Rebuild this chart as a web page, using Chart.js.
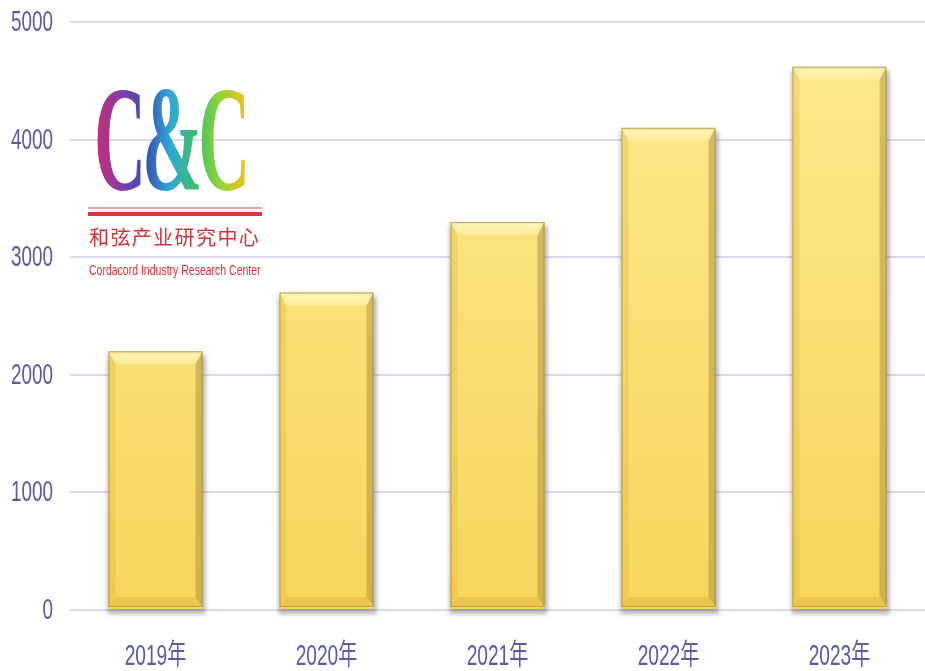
<!DOCTYPE html>
<html>
<head>
<meta charset="utf-8">
<script src="https://cdn.jsdelivr.net/npm/chart.js@4.4.1/dist/chart.umd.min.js"></script>
<style>
  html, body { margin: 0; padding: 0; background: #fff; }
  #wrap { position: relative; width: 925px; height: 671px; overflow: hidden; }
  #chart { position: absolute; left: 0; top: 0; }
  .logo { position: absolute; left: 88px; top: 84px; width: 176px; height: 200px; pointer-events: none; }
  .logo .mark {
    position: absolute; left: 6px; top: -20px; display: inline-block;
    font-family: "Liberation Serif", "DejaVu Serif", serif; font-size: 150px; font-weight: bold; line-height: 1;
    letter-spacing: -8px; white-space: nowrap;
    background: linear-gradient(90deg, #c8306c 0%, #8a3aa8 16%, #3b4fb0 34%, #2fa8d8 50%, #3cbf6a 66%, #8fd33a 82%, #f2c21e 100%);
    -webkit-background-clip: text; background-clip: text; color: transparent;
    transform: scaleX(0.48); transform-origin: 0 0;
  }
  .logo .rule1 { position: absolute; left: 0; top: 123px; width: 174px; height: 2px; background: #e7a2a4; }
  .logo .rule2 { position: absolute; left: 0; top: 128px; width: 174px; height: 4px; background: #cf3a3f; }
  .logo .cn {
    position: absolute; left: 1px; top: 143px; white-space: nowrap;
    font-family: "Noto Sans CJK SC", sans-serif; font-size: 20px; line-height: 1;
    letter-spacing: 1.4px; color: #d3323a;
  }
  .logo .en {
    position: absolute; left: 1px; top: 179px; width: 240px; white-space: nowrap;
    font-family: "Liberation Sans Narrow", "Liberation Sans", sans-serif; font-size: 14px; line-height: 1;
    color: #d3323a; transform: scaleX(0.75); transform-origin: 0 0;
  }
</style>
</head>
<body>
<div id="wrap">
  <canvas id="chart" width="925" height="671"></canvas>
  <div class="logo">
    <div class="mark">C&amp;C</div>
    <div class="rule1"></div>
    <div class="rule2"></div>
    <div class="cn">和弦产业研究中心</div>
    <div class="en">Cordacord Industry Research Center</div>
  </div>
</div>
<script>
// yearly values
var years = ['2019年', '2020年', '2021年', '2022年', '2023年'];
var marketSize = [2200, 2700, 3300, 4100, 4620];
var yTickValues = [0, 1000, 2000, 3000, 4000, 5000];

var labelColor = '#5a5aa6';
var labelFont = '29px "Liberation Sans Narrow", "Liberation Sans", "Noto Sans CJK SC", sans-serif';

// squeezed text, the labels use a very condensed face
function narrowText(ctx, text, x, y, align, sx) {
    ctx.save();
    ctx.translate(x, y);
    ctx.scale(sx, 1);
    ctx.font = labelFont;
    ctx.fillStyle = labelColor;
    ctx.textAlign = align;
    ctx.textBaseline = 'middle';
    ctx.fillText(text, 0, 0);
    ctx.restore();
}

var axisLabels = {
    id: 'axisLabels',
    afterDraw: function(chart) {
        var ctx = chart.ctx;
        var ys = chart.scales.y, xs = chart.scales.x;
        yTickValues.forEach(function(v) {
            narrowText(ctx, String(v), 53, ys.getPixelForValue(v) + 1, 'right', 0.65);
        });
        years.forEach(function(lbl, i) {
            narrowText(ctx, lbl, xs.getPixelForValue(i), 657, 'center', 0.66);
        });
    }
};

// drop shadow under each bar
var barShadow = {
    id: 'barShadow',
    beforeDatasetsDraw: function(chart) {
        var ctx = chart.ctx;
        chart.getDatasetMeta(0).data.forEach(function(bar) {
            var l = bar.x - bar.width / 2, r = bar.x + bar.width / 2;
            ctx.save();
            ctx.filter = 'blur(2px)';
            ctx.fillStyle = 'rgba(90,90,90,0.45)';
            ctx.fillRect(l - 1, bar.y + 4, r - l + 4, bar.base - bar.y + 1);
            ctx.restore();
        });
    }
};

// bevelled edges on top of the plain bars
var barBevel = {
    id: 'barBevel',
    afterDatasetsDraw: function(chart) {
        var ctx = chart.ctx;
        chart.getDatasetMeta(0).data.forEach(function(bar) {
            var l = bar.x - bar.width / 2, r = bar.x + bar.width / 2;
            var t = bar.y, b = bar.base - 3;
            var d = 7, dt = 13, db = 9;
            ctx.save();
            // top face
            var g = ctx.createLinearGradient(0, t, 0, t + dt);
            g.addColorStop(0, '#f2df92');
            g.addColorStop(0.25, '#fff4b4');
            g.addColorStop(1, '#feeb9a');
            ctx.fillStyle = g;
            ctx.beginPath();
            ctx.moveTo(l, t); ctx.lineTo(r, t); ctx.lineTo(r - d, t + dt); ctx.lineTo(l + d, t + dt);
            ctx.closePath(); ctx.fill();
            // left side
            ctx.fillStyle = 'rgba(215,180,60,0.3)';
            ctx.beginPath();
            ctx.moveTo(l, t); ctx.lineTo(l + d, t + dt); ctx.lineTo(l + d, b - db); ctx.lineTo(l, b);
            ctx.closePath(); ctx.fill();
            // right side
            ctx.fillStyle = 'rgba(150,125,45,0.4)';
            ctx.beginPath();
            ctx.moveTo(r, t); ctx.lineTo(r - d, t + dt); ctx.lineTo(r - d, b - db); ctx.lineTo(r, b);
            ctx.closePath(); ctx.fill();
            // bottom face
            ctx.fillStyle = 'rgba(215,170,40,0.35)';
            ctx.beginPath();
            ctx.moveTo(l, b); ctx.lineTo(l + d, b - db); ctx.lineTo(r - d, b - db); ctx.lineTo(r, b);
            ctx.closePath(); ctx.fill();
            // outline
            ctx.strokeStyle = 'rgba(130,110,50,0.5)';
            ctx.lineWidth = 1;
            ctx.strokeRect(l + 0.5, t + 0.5, r - l - 1, b - t);
            ctx.restore();
        });
    }
};

var ctx = document.getElementById('chart').getContext('2d');
new Chart(ctx, {
    type: 'bar',
    data: {
        labels: years,
        datasets: [{
            data: marketSize,
            borderWidth: 0,
            barPercentage: 0.55,
            categoryPercentage: 1,
            backgroundColor: function(c) {
                var area = c.chart.chartArea;
                if (!area) return '#f8dc6a';
                var g = c.chart.ctx.createLinearGradient(0, area.top, 0, area.bottom);
                g.addColorStop(0, '#feea8e');
                g.addColorStop(1, '#f6d55c');
                return g;
            }
        }]
    },
    options: {
        responsive: false,
        animation: false,
        layout: { padding: { left: 70, right: 0, top: 22, bottom: 53 } },
        plugins: { legend: { display: false }, tooltip: { enabled: false } },
        scales: {
            x: {
                grid: { display: false },
                border: { display: false },
                ticks: { display: false }
            },
            y: {
                min: 0,
                max: 5000,
                ticks: { display: false, stepSize: 1000 },
                border: { display: false },
                grid: { color: '#dcdaef', lineWidth: 2, drawTicks: false }
            }
        }
    },
    plugins: [barShadow, barBevel, axisLabels]
});
</script>
</body>
</html>
